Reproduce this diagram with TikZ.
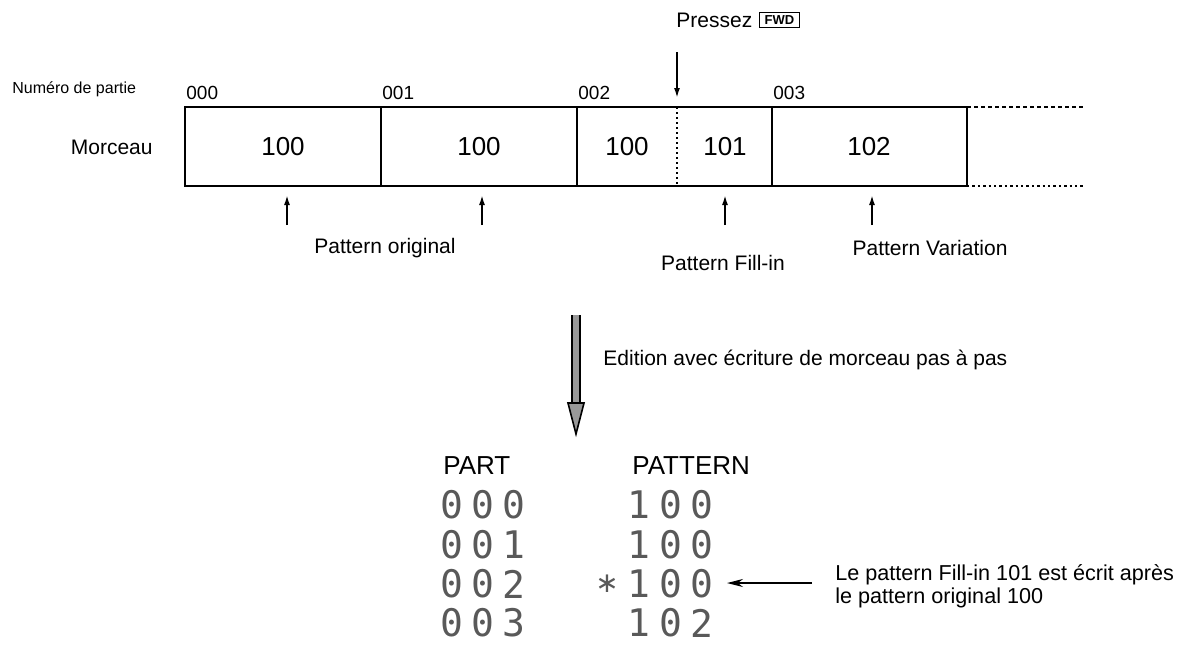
\documentclass[tikz,border=0pt]{standalone}
\usepackage{fontspec}
\setmainfont{Liberation Sans}
\newfontfamily\lcdfont{DejaVu Sans Mono}
\newfontfamily\symfont{DejaVu Sans}
\usetikzlibrary{arrows.meta, positioning, calc}

\begin{document}
\begin{tikzpicture}[
    x=0.5pt, y=-0.5pt,
    every node/.style={font=\fontsize{10.5}{12}\selectfont, inner sep=0pt},
    cellnum/.style={font=\fontsize{13}{15}\selectfont},
    partnum/.style={font=\fontsize{9.5}{11}\selectfont, anchor=base west},
    lcd/.style={font=\lcdfont\fontsize{19}{21}\selectfont, text=black!65},
    header/.style={font=\fontsize{13}{15}\selectfont, anchor=west},
    boxline/.style={line width=0.8pt},
    divline/.style={line width=1.1pt},
    tail/.style={dash pattern=on 2pt off 1.5pt, line width=0.8pt},
    uparrow/.style={-{Latex[length=5pt,width=3pt]}, line width=0.9pt},
    notearrow/.style={-{Stealth[length=8pt,width=4pt]}, line width=0.8pt},
    keybox/.style={draw, line width=0.7pt, font=\bfseries\fontsize{6.5}{7}\selectfont, minimum width=20pt, minimum height=7.5pt, inner sep=1pt}
]
\useasboundingbox (0,0) rectangle (1184,654);

% Touche FWD
\node[anchor=west] (press) at (676,20) {Pressez};
\node[keybox, right=3pt of press] (fwd) {FWD};
\coordinate (ptop) at (677,52);
\coordinate (pbot) at (677,98);
\draw[uparrow] (ptop) -- (pbot);

% Bande du morceau
\draw[boxline] (185,107) rectangle (967,186);
\foreach \x in {381,577,772} {
    \draw[divline] (\x,107) -- (\x,186);
}
\draw[line width=0.8pt, dash pattern=on 1pt off 1.5pt] (677,107) -- (677,186);
\draw[tail] (967,107) -- (1083,107);
\draw[tail, dash pattern=on 1.2pt off 1.5pt] (967,186) -- (1083,186);

\node[anchor=west, font=\fontsize{8}{9}\selectfont] (numlbl) at (12,89) {Numéro de partie};
\node[anchor=east] (morceau) at (153,147) {Morceau};

\node[partnum] (n0) at (186,99) {000};
\node[partnum] (n1) at (382,99) {001};
\node[partnum] (n2) at (578,99) {002};
\node[partnum] (n3) at (773,99) {003};

\node[cellnum] (c0)  at (283,147) {100};
\node[cellnum] (c1)  at (479,147) {100};
\node[cellnum] (c2a) at (627,147) {100};
\node[cellnum] (c2b) at (725,147) {101};
\node[cellnum] (c3)  at (869,147) {102};

% Fleches vers le haut
\foreach \x/\n in {287/a, 482/b, 725/c, 872/d} {
    \coordinate (ut\n) at (\x,195);
    \coordinate (ub\n) at (\x,225);
    \draw[uparrow] (ub\n) -- (ut\n);
}

\node (orig) at (385,248) {Pattern original};
\node (fill) at (723,263) {Pattern Fill-in};
\node (vari) at (930,248) {Pattern Variation};

% Fleche double
\coordinate (dtop)  at (576,315);
\coordinate (dbase) at (576,403);
\coordinate (dtip)  at (576,434);
\draw[double=black!40, double distance=3pt, line width=0.8pt] (dtop) -- (dbase);
\draw[line width=0.8pt, fill=black!40] ($(dbase)+(-8,0)$) -- (dtip) -- ($(dbase)+(8,0)$) -- cycle;
\node[anchor=west] (edit) at (603,360) {Edition avec écriture de morceau pas à pas};

% Afficheur
\node[header] (parthd) at (443,466) {PART};
\node[header] (pathd)  at (632,466) {PATTERN};

\foreach \r/\y/\a/\b/\c/\d/\e/\f in {1/505/0/0/0/1/0/0, 2/545/0/0/1/1/0/0, 3/584/0/0/2/1/0/0, 4/623/0/0/3/1/0/2} {
    \node[lcd] (pa\r) at (452,\y) {\a};
    \node[lcd] (pb\r) at (483,\y) {\b};
    \node[lcd] (pc\r) at (514,\y) {\c};
    \node[lcd] (ta\r) at (639,\y) {\d};
    \node[lcd] (tb\r) at (671,\y) {\e};
    \node[lcd] (tc\r) at (702,\y) {\f};
}
\node[lcd, font=\symfont\fontsize{14}{16}\selectfont] (star) at (607,584) {∗};

\node[anchor=west, align=left, font=\fontsize{10.8}{11.5}\selectfont] (note) at (835,586)
    {Le pattern Fill-in 101 est écrit après\\le pattern original 100};
\coordinate (ltail) at (812,583);
\coordinate (lhead) at (727,583);
\draw[notearrow] (ltail) -- (lhead);

\end{tikzpicture}
\end{document}
